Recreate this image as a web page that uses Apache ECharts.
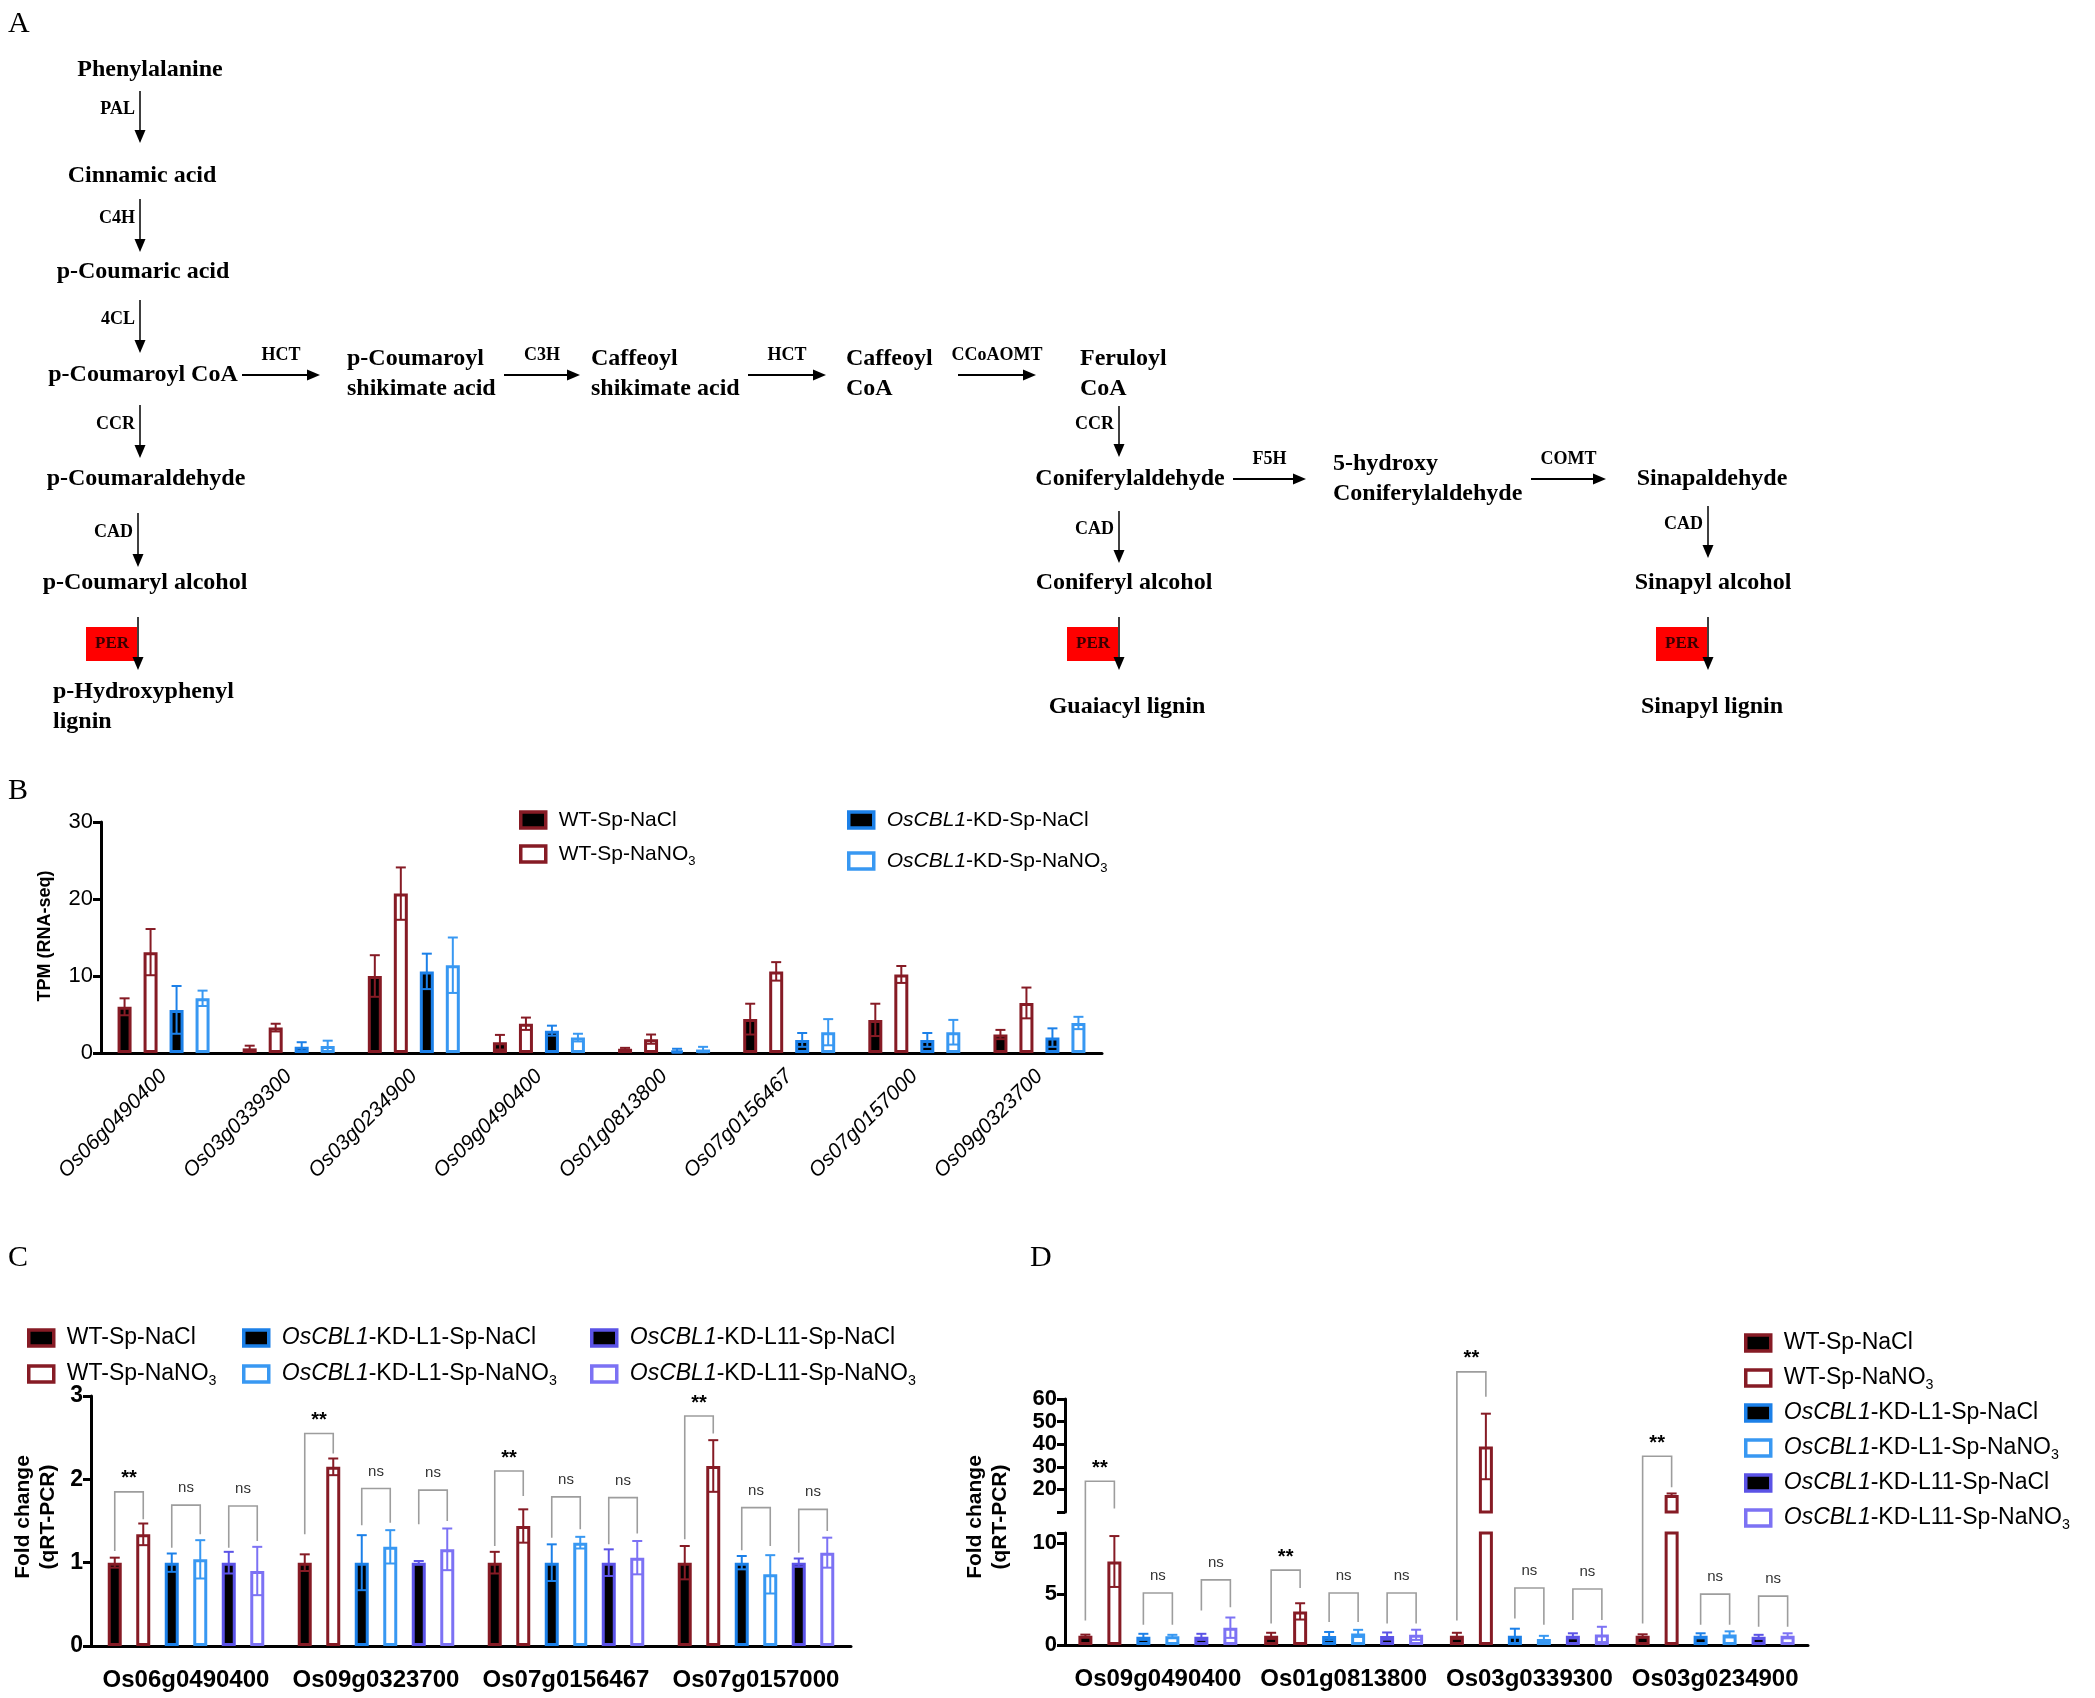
<!DOCTYPE html>
<html>
<head>
<meta charset="utf-8">
<script src="https://cdn.jsdelivr.net/npm/echarts@6/dist/echarts.min.js"></script>
<style>
html, body { margin: 0; padding: 0; background: #fff; }
#main { width: 2095px; height: 1698px; }
</style>
</head>
<body>
<div id="main"></div>
<script>
// ---- panel B: RNA-seq (TPM) ----
var bGenes = ['Os06g0490400', 'Os03g0339300', 'Os03g0234900', 'Os09g0490400', 'Os01g0813800', 'Os07g0156467', 'Os07g0157000', 'Os09g0323700'];
var bWtNaCl      = [6.0, 0.6, 10.0, 1.4, 0.55, 4.4, 4.3, 2.4];
var bWtNaClSd    = [1.1, 0.35, 2.7, 0.95, 0.12, 2.0, 2.1, 0.6];
var bWtNaNO3     = [13.1, 3.3, 20.7, 3.8, 1.8, 10.6, 10.2, 6.5];
var bWtNaNO3Sd   = [3.0, 0.5, 3.4, 0.8, 0.6, 1.2, 1.1, 2.0];
var bKdNaCl      = [5.6, 0.8, 10.6, 2.9, 0.3, 1.7, 1.7, 2.0];
var bKdNaClSd    = [3.1, 0.6, 2.3, 0.65, 0.25, 0.9, 0.9, 1.2];
var bKdNaNO3     = [7.1, 0.9, 11.4, 2.0, 0.45, 2.7, 2.7, 3.9];
var bKdNaNO3Sd   = [1.0, 0.7, 3.6, 0.5, 0.35, 1.7, 1.6, 0.8];
var bTicks = [0, 10, 20, 30];

// ---- panel C: qRT-PCR ----
var cGenes = ['Os06g0490400', 'Os09g0323700', 'Os07g0156467', 'Os07g0157000'];
var cWtNaCl      = [1, 1, 1, 1];
var cWtNaClSd    = [0.06, 0.1, 0.13, 0.2];
var cWtNaNO3     = [1.34, 2.15, 1.44, 2.16];
var cWtNaNO3Sd   = [0.13, 0.1, 0.2, 0.31];
var cL1NaCl      = [1, 1, 1, 1];
var cL1NaClSd    = [0.11, 0.33, 0.22, 0.08];
var cL1NaNO3     = [1.04, 1.19, 1.24, 0.86];
var cL1NaNO3Sd   = [0.23, 0.2, 0.07, 0.23];
var cL11NaCl     = [1, 1, 1, 1];
var cL11NaClSd   = [0.13, 0.02, 0.16, 0.05];
var cL11NaNO3    = [0.9, 1.16, 1.06, 1.12];
var cL11NaNO3Sd  = [0.29, 0.25, 0.2, 0.18];
// [gene, pair (0 WT, 1 L1, 2 L11), bracket top, left leg end, right leg end, mark]
var cSig = [
  [0, 0, 1.85, 1.14, 1.52, '**'], [0, 1, 1.69, 1.18, 1.34, 'ns'], [0, 2, 1.68, 1.18, 1.26, 'ns'],
  [1, 0, 2.55, 1.34, 2.31, '**'], [1, 1, 1.89, 1.45, 1.48, 'ns'], [1, 2, 1.87, 1.46, 1.5, 'ns'],
  [2, 0, 2.1, 1.2, 1.8, '**'],    [2, 1, 1.79, 1.3, 1.4, 'ns'],   [2, 2, 1.78, 1.22, 1.35, 'ns'],
  [3, 0, 2.76, 1.28, 2.55, '**'], [3, 1, 1.66, 1.15, 1.2, 'ns'],  [3, 2, 1.64, 1.12, 1.38, 'ns']
];

// ---- panel D: qRT-PCR, broken axis ----
var dGenes = ['Os09g0490400', 'Os01g0813800', 'Os03g0339300', 'Os03g0234900'];
var dWtNaCl      = [0.9, 0.9, 0.9, 0.9];
var dWtNaClSd    = [0.12, 0.3, 0.3, 0.15];
var dWtNaNO3     = [8.2, 3.3, 39, 17.5];
var dWtNaNO3Sd   = [2.5, 0.8, 14.5, 0.7];
var dL1NaCl      = [0.8, 0.88, 0.9, 0.9];
var dL1NaClSd    = [0.3, 0.4, 0.7, 0.25];
var dL1NaNO3     = [0.85, 1.14, 0.6, 1.04];
var dL1NaNO3Sd   = [0.15, 0.35, 0.3, 0.3];
var dL11NaCl     = [0.8, 0.88, 0.9, 0.8];
var dL11NaClSd   = [0.3, 0.35, 0.25, 0.2];
var dL11NaNO3    = [1.7, 1.0, 1.04, 0.9];
var dL11NaNO3Sd  = [1.0, 0.5, 0.75, 0.25];
var dLowTicks = [0, 5, 10];
var dHighTicks = [20, 30, 40, 50, 60];
var dSig = [
  [0, 0, 23.6, 2.4, 11.5, '**'], [0, 1, 5.1, 2.0, 2.0, 'ns'],   [0, 2, 6.4, 3.4, 3.7, 'ns'],
  [1, 0, 7.35, 2.1, 5.6, '**'],  [1, 1, 5.1, 2.25, 2.25, 'ns'], [1, 2, 5.1, 2.1, 2.1, 'ns'],
  [2, 0, 72, 2.4, 61, '**'],     [2, 1, 5.6, 2.6, 2.0, 'ns'],   [2, 2, 5.5, 2.45, 2.45, 'ns'],
  [3, 0, 34.7, 2.1, 21, '**'],   [3, 1, 5.0, 2.0, 2.0, 'ns'],   [3, 2, 4.8, 1.8, 1.8, 'ns']
];

var SANS = '"Liberation Sans", Arial, sans-serif';
var SERIF = '"Liberation Serif", "Times New Roman", serif';
var RED = '#861b25', BLUE = '#1c80e8', BLUE2 = '#3898f2', PUR = '#5b53e6', PUR2 = '#7c72f4';
var BW = 14;

// pathway (panel A) layout
var nodes = [
  ['Phenylalanine', 150, 70, 'center'],
  ['Cinnamic acid', 142, 176, 'center'],
  ['p-Coumaric acid', 143, 272, 'center'],
  ['p-Coumaroyl CoA', 143, 375, 'center'],
  ['p-Coumaraldehyde', 146, 479, 'center'],
  ['p-Coumaryl alcohol', 145, 583, 'center'],
  ['p-Hydroxyphenyl\nlignin', 53, 707, 'left'],
  ['p-Coumaroyl\nshikimate acid', 347, 374, 'left'],
  ['Caffeoyl\nshikimate acid', 591, 374, 'left'],
  ['Caffeoyl\nCoA', 846, 374, 'left'],
  ['Feruloyl\nCoA', 1080, 374, 'left'],
  ['Coniferylaldehyde', 1130, 479, 'center'],
  ['5-hydroxy\nConiferylaldehyde', 1333, 479, 'left'],
  ['Sinapaldehyde', 1712, 479, 'center'],
  ['Coniferyl alcohol', 1124, 583, 'center'],
  ['Sinapyl alcohol', 1713, 583, 'center'],
  ['Guaiacyl lignin', 1127, 707, 'center'],
  ['Sinapyl lignin', 1712, 707, 'center']
];
var vArrows = [
  ['PAL', 140, 91, 143], ['C4H', 140, 199, 252], ['4CL', 140, 300, 353],
  ['CCR', 140, 405, 458], ['CAD', 138, 513, 567], ['PER', 138, 617, 670],
  ['CCR', 1119, 406, 457], ['CAD', 1119, 511, 563], ['PER', 1119, 617, 670],
  ['CAD', 1708, 506, 558], ['PER', 1708, 617, 670]
];
var hArrows = [
  ['HCT', 242, 320, 375], ['C3H', 504, 580, 375], ['HCT', 748, 826, 375],
  ['CCoAOMT', 958, 1036, 375], ['F5H', 1233, 1306, 479], ['COMT', 1531, 1606, 479]
];

function diagram() {
  var els = [];
  nodes.forEach(function (n) {
    els.push({type: 'text', x: n[1], y: n[2], style: {text: n[0], font: 'bold 24px ' + SERIF, fill: '#000', align: n[3], verticalAlign: 'middle', lineHeight: 30}});
  });
  vArrows.forEach(function (a) {
    var x = a[1], y1 = a[2], y2 = a[3];
    if (a[0] === 'PER') {
      els.push({type: 'rect', shape: {x: x - 52, y: 627, width: 51, height: 34}, style: {fill: '#ff0000'}});
      els.push({type: 'text', x: x - 26, y: 644, style: {text: 'PER', font: 'bold 17px ' + SERIF, fill: '#3a0000', align: 'center', verticalAlign: 'middle'}});
    } else {
      els.push({type: 'text', x: x - 5, y: y1 + (y2 - y1) * 0.36, style: {text: a[0], font: 'bold 18px ' + SERIF, fill: '#000', align: 'right', verticalAlign: 'middle'}});
    }
    els.push({type: 'line', shape: {x1: x, y1: y1, x2: x, y2: y2 - 10}, style: {stroke: '#000', lineWidth: 1.5}});
    els.push({type: 'polygon', shape: {points: [[x - 5.5, y2 - 13], [x + 5.5, y2 - 13], [x, y2]]}, style: {fill: '#000'}});
  });
  hArrows.forEach(function (a) {
    var x1 = a[1], x2 = a[2], y = a[3];
    els.push({type: 'line', shape: {x1: x1, y1: y, x2: x2 - 10, y2: y}, style: {stroke: '#000', lineWidth: 2}});
    els.push({type: 'polygon', shape: {points: [[x2 - 13, y - 5.5], [x2 - 13, y + 5.5], [x2, y]]}, style: {fill: '#000'}});
    els.push({type: 'text', x: (x1 + x2) / 2, y: y - 20, style: {text: a[0], font: 'bold 18px ' + SERIF, fill: '#000', align: 'center', verticalAlign: 'middle'}});
  });
  [['A', 8, 24], ['B', 8, 791], ['C', 8, 1258], ['D', 1030, 1258]].forEach(function (p) {
    els.push({type: 'text', x: p[1], y: p[2], style: {text: p[0], font: '30px ' + SERIF, fill: '#000', verticalAlign: 'middle'}});
  });
  [['TPM (RNA-seq)', 45, 936], ['Fold change\n(qRT-PCR)', 36, 1517], ['Fold change\n(qRT-PCR)', 988, 1517]].forEach(function (p) {
    els.push({type: 'text', x: p[1], y: p[2], rotation: Math.PI / 2,
      style: {text: p[0], font: 'bold ' + (p[0].length > 14 ? 21 : 18) + 'px ' + SANS, fill: '#000', align: 'center', verticalAlign: 'middle', lineHeight: 25}});
  });
  return els;
}

function bars(name, vals, fill, border, xi, yi, step) {
  return {type: 'bar', name: name, xAxisIndex: xi, yAxisIndex: yi, data: vals, barWidth: BW,
    barGap: ((step - BW) / BW * 100).toFixed(1) + '%', silent: true,
    itemStyle: {color: fill, borderColor: border, borderWidth: 3}};
}

function errData(sets, keep) {
  var out = [];
  sets.forEach(function (s, k) {
    s[0].forEach(function (m, i) {
      if (!keep || keep(m, s[1][i])) out.push([i, m, s[1][i], k]);
    });
  });
  return out;
}

function errSeries(data, xi, yi, step, n, colors) {
  return {type: 'custom', xAxisIndex: xi, yAxisIndex: yi, data: data, silent: true, z: 5,
    renderItem: function (params, api) {
      var i = api.value(0), m = api.value(1), sd = api.value(2), k = api.value(3);
      var x = api.coord([i, m])[0] + (k - (n - 1) / 2) * step;
      var yT = api.coord([i, m + sd])[1];
      var yB = api.coord([i, Math.max(m - sd, 0)])[1];
      var st = {stroke: colors[k], lineWidth: 2};
      return {type: 'group', children: [
        {type: 'line', shape: {x1: x, y1: yT, x2: x, y2: yB}, style: st},
        {type: 'line', shape: {x1: x - 5, y1: yT, x2: x + 5, y2: yT}, style: st},
        {type: 'line', shape: {x1: x - 5, y1: yB, x2: x + 5, y2: yB}, style: st}
      ]};
    }};
}

function richName(name) {
  return name.replace('OsCBL1', '{i|OsCBL1}').replace('NaNO3', 'NaNO{s|3}');
}

function legend(items, left, top, gap, size) {
  return {
    left: left, top: top, orient: 'vertical', itemGap: gap, icon: 'rect',
    itemWidth: 25, itemHeight: 16, selectedMode: false,
    data: items.map(function (it) {
      return {name: it[0], itemStyle: {color: it[1], borderColor: it[2], borderWidth: 3.5}};
    }),
    formatter: richName,
    textStyle: {fontFamily: SANS, fontSize: size, color: '#000', lineHeight: 28, padding: [0, 0, 0, 8],
      rich: {
        i: {fontFamily: SANS, fontSize: size, fontStyle: 'italic', color: '#000'},
        s: {fontFamily: SANS, fontSize: size * 0.62, color: '#000', lineHeight: 12, verticalAlign: 'bottom'}
      }}
  };
}

function axisCommon(extra) {
  var a = {
    axisLine: {show: true, lineStyle: {color: '#000', width: 3}},
    axisTick: {show: true, length: 8, lineStyle: {color: '#000', width: 3}},
    splitLine: {show: false}
  };
  for (var k in extra) a[k] = extra[k];
  return a;
}

var cNames = ['WT-Sp-NaCl', 'WT-Sp-NaNO3', 'OsCBL1-KD-L1-Sp-NaCl', 'OsCBL1-KD-L1-Sp-NaNO3', 'OsCBL1-KD-L11-Sp-NaCl', 'OsCBL1-KD-L11-Sp-NaNO3'];
var cFill = ['#000', '#fff', '#000', '#fff', '#000', '#fff'];
var cBorder = [RED, RED, BLUE, BLUE2, PUR, PUR2];
var bNames = ['WT-Sp-NaCl', 'WT-Sp-NaNO3', 'OsCBL1-KD-Sp-NaCl', 'OsCBL1-KD-Sp-NaNO3'];
var bBorder = [RED, RED, BLUE, BLUE2];

var STEP_B = 26, STEP_C = 28.5, STEP_D = 29;
var bSets = [[bWtNaCl, bWtNaClSd], [bWtNaNO3, bWtNaNO3Sd], [bKdNaCl, bKdNaClSd], [bKdNaNO3, bKdNaNO3Sd]];
var cSets = [[cWtNaCl, cWtNaClSd], [cWtNaNO3, cWtNaNO3Sd], [cL1NaCl, cL1NaClSd], [cL1NaNO3, cL1NaNO3Sd], [cL11NaCl, cL11NaClSd], [cL11NaNO3, cL11NaNO3Sd]];
var dSets = [[dWtNaCl, dWtNaClSd], [dWtNaNO3, dWtNaNO3Sd], [dL1NaCl, dL1NaClSd], [dL1NaNO3, dL1NaNO3Sd], [dL11NaCl, dL11NaClSd], [dL11NaNO3, dL11NaNO3Sd]];

var series = [];
bSets.forEach(function (s, k) { series.push(bars(bNames[k], s[0], cFill[k], bBorder[k], 0, 0, STEP_B)); });
series.push(errSeries(errData(bSets), 0, 0, STEP_B, 4, bBorder));
cSets.forEach(function (s, k) { series.push(bars(cNames[k], s[0], cFill[k], cBorder[k], 1, 1, STEP_C)); });
series.push(errSeries(errData(cSets), 1, 1, STEP_C, 6, cBorder));
dSets.forEach(function (s, k) { series.push(bars(cNames[k], s[0], cFill[k], cBorder[k], 2, 2, STEP_D)); });
series.push(errSeries(errData(dSets, function (m, sd) { return m + sd <= 11.5; }), 2, 2, STEP_D, 6, cBorder));
dSets.forEach(function (s, k) {
  series.push(bars(cNames[k], s[0].map(function (v) { return v > 11 ? v : '-'; }), cFill[k], cBorder[k], 3, 3, STEP_D));
});
series.push(errSeries(errData(dSets, function (m, sd) { return m - sd >= 10; }), 3, 3, STEP_D, 6, cBorder));

var catLabel = {fontFamily: SANS, fontSize: 24, fontWeight: 'bold', color: '#000', margin: 22, interval: 0};
var option = {
  animation: false,
  backgroundColor: '#fff',
  grid: [
    {left: 101, top: 822, width: 1001, height: 231},
    {left: 91, top: 1396, width: 760, height: 250},
    {left: 1065, top: 1533, width: 743, height: 112},
    {left: 1065, top: 1399, width: 743, height: 113}
  ],
  xAxis: [
    axisCommon({type: 'category', gridIndex: 0, data: bGenes,
      axisTick: {alignWithLabel: true, length: 11, lineStyle: {color: '#000', width: 2.5}},
      axisLabel: {rotate: 45, interval: 0, fontFamily: SANS, fontStyle: 'italic', fontSize: 21, color: '#000', margin: 20}}),
    axisCommon({type: 'category', gridIndex: 1, data: cGenes,
      axisTick: {alignWithLabel: true, length: 11, lineStyle: {color: '#000', width: 3}}, axisLabel: catLabel}),
    axisCommon({type: 'category', gridIndex: 2, data: dGenes,
      axisTick: {alignWithLabel: true, length: 11, lineStyle: {color: '#000', width: 3}}, axisLabel: catLabel}),
    {type: 'category', gridIndex: 3, data: dGenes, show: false}
  ],
  yAxis: [
    axisCommon({type: 'value', gridIndex: 0, min: 0, max: 30, interval: 10,
      axisLabel: {fontFamily: SANS, fontSize: 22, color: '#000', margin: 8, customValues: bTicks}}),
    axisCommon({type: 'value', gridIndex: 1, min: 0, max: 3, interval: 1,
      axisLabel: {fontFamily: SANS, fontSize: 23, fontWeight: 'bold', color: '#000', margin: 8}}),
    axisCommon({type: 'value', gridIndex: 2, min: 0, max: 11,
      axisTick: {show: true, length: 8, lineStyle: {color: '#000', width: 3}, customValues: [0, 5, 10, 11]},
      axisLabel: {fontFamily: SANS, fontSize: 22, fontWeight: 'bold', color: '#000', margin: 8, customValues: dLowTicks}}),
    axisCommon({type: 'value', gridIndex: 3, min: 10, max: 60,
      axisTick: {show: true, length: 8, lineStyle: {color: '#000', width: 3}, customValues: [10, 20, 30, 40, 50, 60]},
      axisLabel: {fontFamily: SANS, fontSize: 22, fontWeight: 'bold', color: '#000', margin: 8, customValues: dHighTicks}})
  ],
  legend: [
    legend([[bNames[0], '#000', RED], [bNames[1], '#fff', RED]], 514, 801, 6, 21),
    legend([[bNames[2], '#000', BLUE], [bNames[3], '#fff', BLUE2]], 842, 801, 13, 21),
    legend([[cNames[0], '#000', RED], [cNames[1], '#fff', RED]], 22, 1319, 8, 23),
    legend([[cNames[2], '#000', BLUE], [cNames[3], '#fff', BLUE2]], 237, 1319, 8, 23),
    legend([[cNames[4], '#000', PUR], [cNames[5], '#fff', PUR2]], 585, 1319, 8, 23),
    legend(cNames.map(function (n, k) { return [n, cFill[k], cBorder[k]]; }), 1739, 1324, 7, 23)
  ],
  series: series
};

var chart = echarts.init(document.getElementById('main'));
chart.setOption(option);

// significance brackets, placed through the axes of each panel
function brackets(sig, toPix, step) {
  var els = [];
  sig.forEach(function (b) {
    var cx = toPix(b[0], 1)[0];
    var xl = cx + (2 * b[1] - 2.5) * step, xr = cx + (2 * b[1] - 1.5) * step;
    var yt = toPix(b[0], b[2])[1], yl = toPix(b[0], b[3])[1], yr = toPix(b[0], b[4])[1];
    els.push({type: 'polyline', shape: {points: [[xl, yl], [xl, yt], [xr, yt], [xr, yr]]},
      style: {stroke: '#9d9d9d', lineWidth: 1.6, fill: null}});
    var star = b[5] === '**';
    els.push({type: 'text', x: (xl + xr) / 2, y: yt - (star ? 13 : 17), style: {text: b[5],
      font: (star ? 'bold 20px ' : '15px ') + SANS, fill: star ? '#000' : '#333', align: 'center', verticalAlign: 'middle'}});
  });
  return els;
}
var cPix = function (i, v) { return chart.convertToPixel({gridIndex: 1}, [i, v]); };
var dPix = function (i, v) { return chart.convertToPixel({gridIndex: v <= 11 ? 2 : 3}, [i, v]); };

chart.setOption({graphic: diagram().concat(brackets(cSig, cPix, STEP_C), brackets(dSig, dPix, STEP_D))});
</script>
</body>
</html>
